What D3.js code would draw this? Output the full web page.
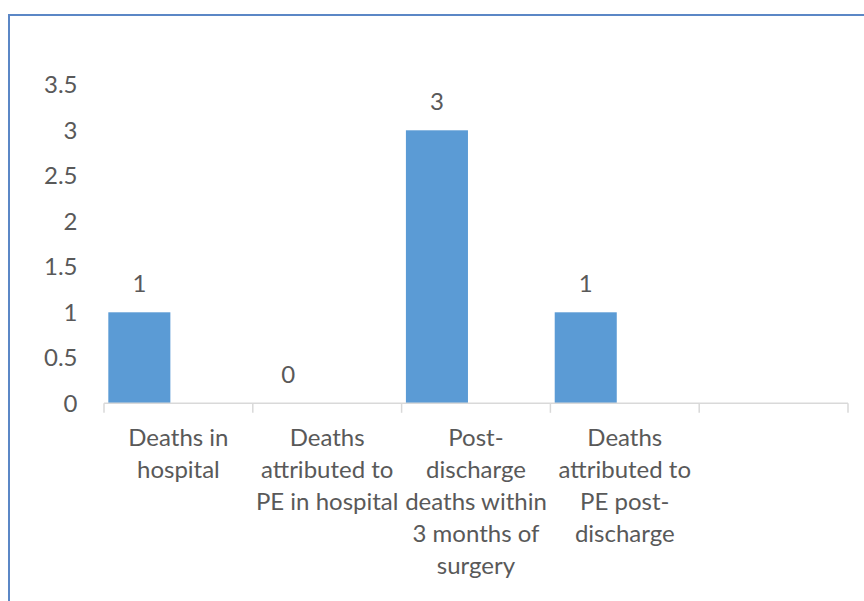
<!DOCTYPE html>
<html>
<head>
<meta charset="utf-8">
<script src="https://cdn.jsdelivr.net/npm/d3@7"></script>
<style>
  html, body { margin: 0; padding: 0; background: #fff; }
  svg { display: block; }
  text { font-family: Lato, "Noto Sans", sans-serif; fill: #595959; }
</style>
</head>
<body>
<svg id="chart" width="864" height="601"></svg>
<script>
// ---- data ----
const categories = [
  "Deaths in hospital",
  "Deaths attributed to PE in hospital",
  "Post-discharge deaths within 3 months of surgery",
  "Deaths attributed to PE post-discharge",
  ""
];
const categoryLines = [
  ["Deaths in", "hospital"],
  ["Deaths", "attributed to", "PE in hospital"],
  ["Post-", "discharge", "deaths within", "3 months of", "surgery"],
  ["Deaths", "attributed to", "PE post-", "discharge"],
  []
];
const values = [1, 0, 3, 1, null];
const yTicks = [0, 0.5, 1, 1.5, 2, 2.5, 3, 3.5];

// ---- layout ----
const svg = d3.select("#chart");
const fontSize = 24;
const plot = { left: 104, right: 848, top: 84.8, bottom: 403.3 };

// frame border (extends past right and bottom edges as in the reference)
svg.append("rect")
  .attr("x", 9).attr("y", 15)
  .attr("width", 900).attr("height", 700)
  .attr("fill", "none")
  .attr("stroke", "#5b87c6")
  .attr("stroke-width", 2);

const x = d3.scaleBand().domain(d3.range(categories.length)).range([plot.left, plot.right]).padding(0);
const y = d3.scaleLinear().domain([0, 3.5]).range([plot.bottom, plot.top]);
const bw = x.bandwidth();
const barOffset = bw * 0.029, barWidth = bw * 0.417;

// y-axis labels (no axis line, no gridlines)
svg.append("g").selectAll("text").data(yTicks).join("text")
  .attr("x", 77.5)
  .attr("y", d => y(d))
  .attr("dy", "0.35em")
  .attr("text-anchor", "end")
  .style("font-size", fontSize + "px")
  .text(d => d3.format("~g")(d));

// bars
const dataIdx = d3.range(values.length).filter(i => values[i] != null);
svg.append("g").selectAll("rect").data(dataIdx).join("rect")
  .attr("x", i => x(i) + barOffset)
  .attr("y", i => y(values[i]))
  .attr("width", barWidth)
  .attr("height", i => y(0) - y(values[i]))
  .attr("fill", "#5b9bd5");

// value labels
svg.append("g").selectAll("text").data(dataIdx).join("text")
  .attr("x", i => x(i) + barOffset + barWidth / 2)
  .attr("y", i => y(values[i]) - 20)
  .attr("text-anchor", "middle")
  .style("font-size", fontSize + "px")
  .text(i => values[i]);

// x axis line and ticks
const axisG = svg.append("g");
axisG.append("line")
  .attr("x1", plot.left).attr("x2", plot.right)
  .attr("y1", y(0)).attr("y2", y(0))
  .attr("stroke", "#d9d9d9").attr("stroke-width", 1.5);
const boundaries = d3.range(categories.length).map(i => x(i)).concat([x(categories.length - 1) + bw]);
axisG.selectAll("line.tick").data(boundaries).join("line")
  .attr("class", "tick")
  .attr("x1", d => d).attr("x2", d => d)
  .attr("y1", y(0)).attr("y2", y(0) + 9.5)
  .attr("stroke", "#d9d9d9").attr("stroke-width", 1.5);

// category labels
const catG = svg.append("g");
categoryLines.forEach((lines, i) => {
  const t = catG.append("text")
    .attr("text-anchor", "middle")
    .style("font-size", fontSize + "px");
  lines.forEach((ln, j) => {
    t.append("tspan")
      .attr("x", x(i) + bw / 2)
      .attr("y", 445.7 + j * 32)
      .text(ln);
  });
});
</script>
</body>
</html>
